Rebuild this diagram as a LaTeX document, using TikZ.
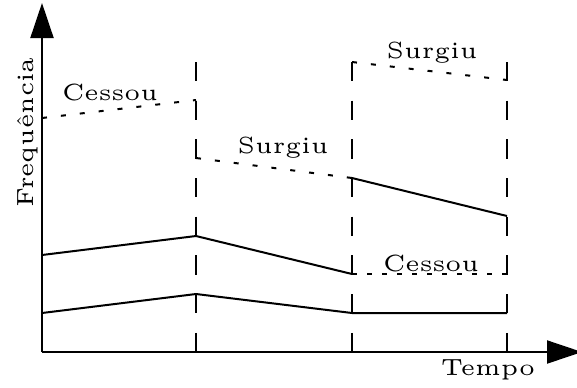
\documentclass[tikz,border=0pt]{standalone}
\usepackage{graphicx}
\usetikzlibrary{arrows.meta}
\newcommand\lbl[1]{\scalebox{2.34}{\fontsize{5}{6}\selectfont #1}}
\begin{document}
\begin{tikzpicture}[x=0.5pt,y=-0.5pt,
  axis/.style={line width=1pt,-{Triangle[length=17.5pt,width=11.5pt]}},
  guide/.style={line width=1pt,dash pattern=on 9.67pt off 9.67pt},
  solidline/.style={line width=1pt,line join=miter},
  dotline/.style={line width=1pt,dash pattern=on 2.5pt off 7pt},
  dotlinetight/.style={line width=1pt,dash pattern=on 2.5pt off 5pt},
  lab/.style={anchor=base,inner sep=0pt}]
\useasboundingbox (0,0) rectangle (577,387);
% axes
\coordinate (O) at (42,352);
\coordinate (ytip) at (42,3);
\coordinate (xtip) at (582,352);
\draw[axis] (O) -- (ytip);
\draw[axis] (O) -- (xtip);
% guides
\coordinate (g1t) at (196,62); \coordinate (g1b) at (196,352);
\coordinate (g2t) at (352,62); \coordinate (g2b) at (352,352);
\coordinate (g3t) at (507,62); \coordinate (g3b) at (507,352);
\draw[guide] (g1t) -- (g1b);
\draw[guide] (g2t) -- (g2b);
\draw[guide] (g3t) -- (g3b);
% bottom line
\coordinate (b0) at (42,313); \coordinate (b1) at (196,294);
\coordinate (b2) at (352,313); \coordinate (b3) at (507,313);
\draw[solidline] (b0) -- (b1) -- (b2) -- (b3);
% lower-middle line
\coordinate (a0) at (42,255); \coordinate (a1) at (196,236);
\coordinate (a2) at (352,274); \coordinate (a3) at (507,274);
\draw[solidline] (a0) -- (a1) -- (a2);
\draw[dotlinetight] (a2) -- (a3);
% middle line
\coordinate (m1) at (196,158); \coordinate (m2) at (352,178);
\coordinate (m3) at (507,216);
\draw[dotline] (m1) -- (m2);
\draw[solidline] (m2) -- (m3);
% upper left
\coordinate (c0) at (42,118); \coordinate (c1) at (196,100);
\draw[dotline] (c0) -- (c1);
% upper right
\coordinate (s2) at (352,62); \coordinate (s3) at (507,80);
\draw[dotline] (s2) -- (s3);
% labels
\node[lab] (cessouA) at (110,100) {\lbl{Cessou}};
\node[lab] (surgiuA) at (283,153) {\lbl{Surgiu}};
\node[lab] (surgiuB) at (432,58) {\lbl{Surgiu}};
\node[lab] (cessouB) at (431,271) {\lbl{Cessou}};
\node[lab] (tempo) at (488,375) {\lbl{Tempo}};
\node[lab,rotate=90] (freq) at (33,132.5) {\lbl{Frequência}};
\end{tikzpicture}
\end{document}
